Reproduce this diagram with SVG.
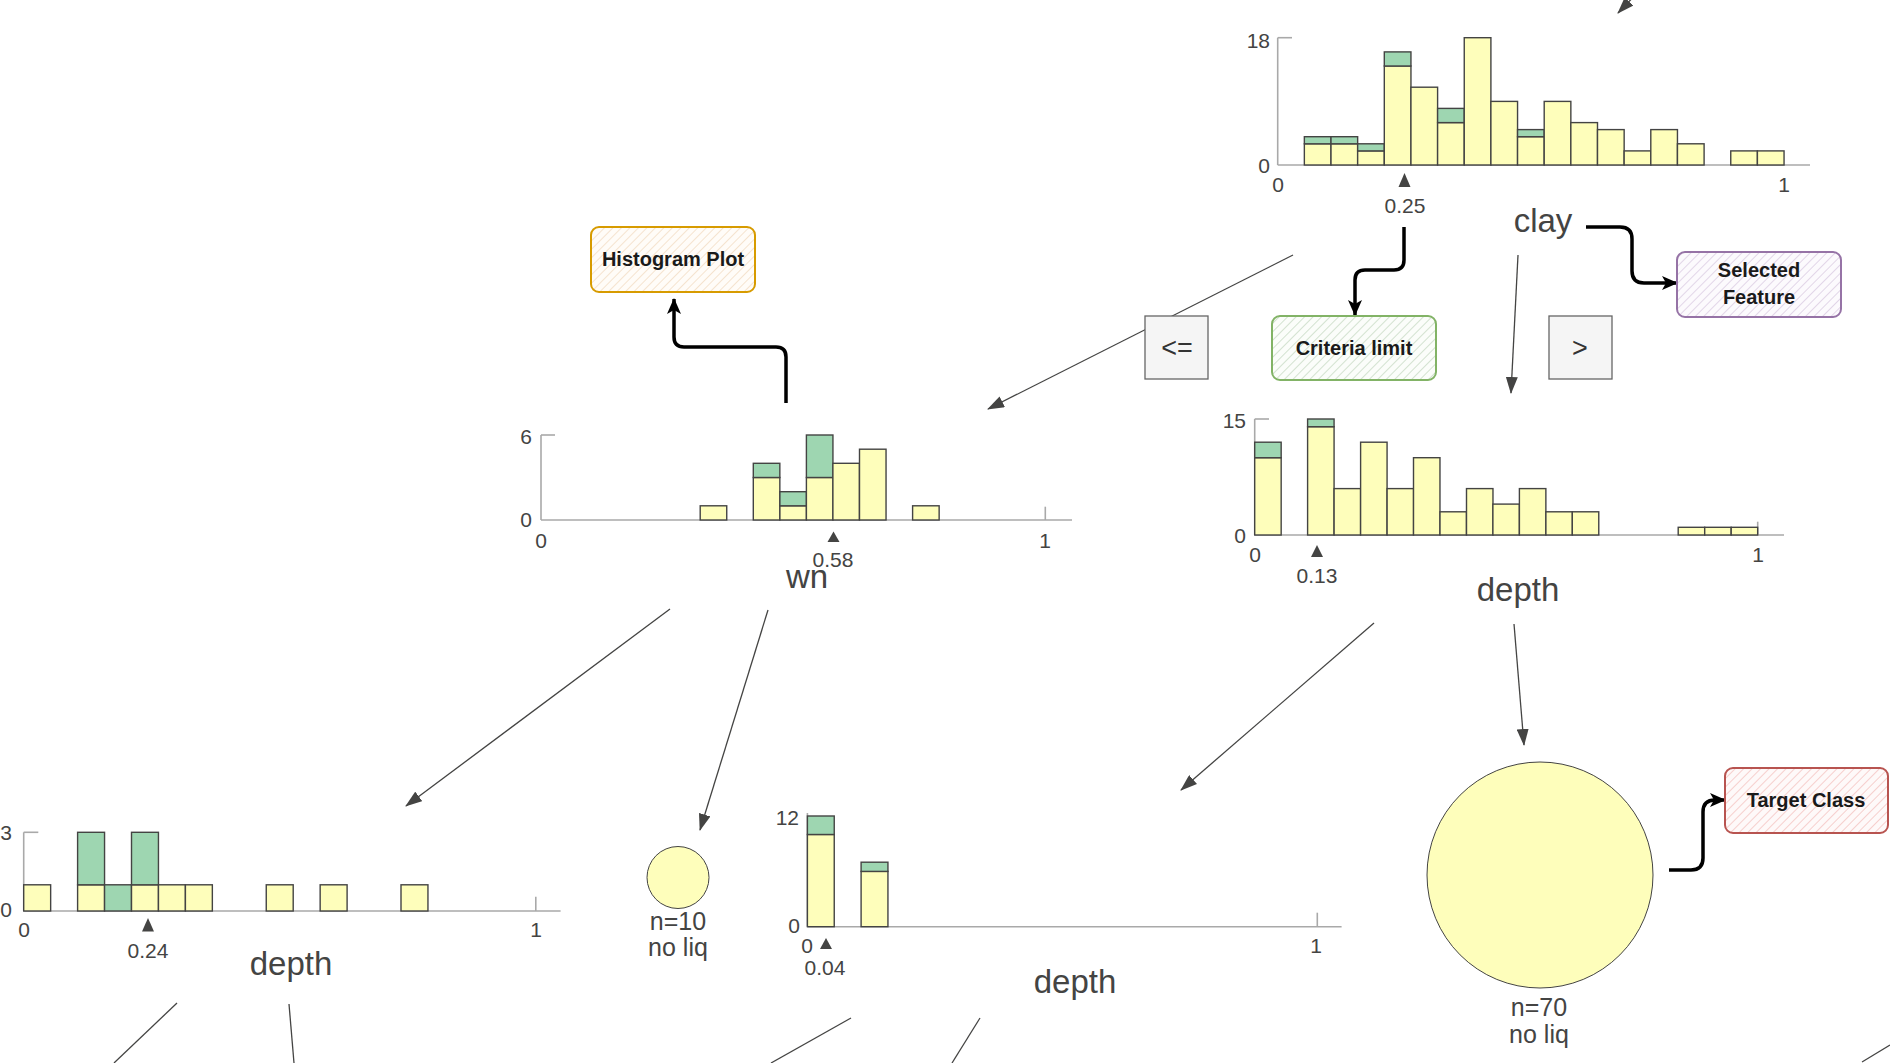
<svg xmlns="http://www.w3.org/2000/svg" width="1890" height="1063" viewBox="0 0 1890 1063">
<style>
text{font-family:"Liberation Sans",Arial,sans-serif;fill:#444443}
.tk{font-size:21px}
.tkl{font-size:21px;text-anchor:end}
.tkc{font-size:21px;text-anchor:middle}
.lab{font-size:33px;text-anchor:middle}
.leaf{font-size:25px;text-anchor:middle}
.ax{stroke:#a9a9a9;stroke-width:1.6;fill:none}
.y{fill:#fefebb;stroke:#444443;stroke-width:1.4}
.g{fill:#9ed6b1;stroke:#444443;stroke-width:1.4}
.mk{fill:#444443}
.edge{stroke:#444443;stroke-width:1.3;fill:none;marker-end:url(#ah)}
.stub{stroke:#444443;stroke-width:1.3;fill:none}
.call{stroke:#000;stroke-width:3.5;fill:none;marker-end:url(#bk)}
.ann{font-size:20px;font-weight:bold;text-anchor:middle;fill:#1a1a1a}
.op{fill:#f5f5f5;stroke:#666;stroke-width:1.3}
.opt{font-size:27px;text-anchor:middle;fill:#333}
</style>
<defs>
<marker id="ah" markerUnits="userSpaceOnUse" markerWidth="17" markerHeight="12" refX="16" refY="6" orient="auto"><path d="M0,0 L17,6 L0,12 z" fill="#444443"/></marker>
<marker id="bk" markerUnits="userSpaceOnUse" markerWidth="16" markerHeight="16" refX="15" refY="8" orient="auto"><path d="M0,1 L16,8 L0,15 L4,8 z" fill="#000"/></marker>
<pattern id="hg" patternUnits="userSpaceOnUse" width="6" height="6" patternTransform="rotate(45)"><rect width="6" height="6" fill="#fbfdfa"/><line x1="0" y1="0" x2="0" y2="6" stroke="#d3e2d0" stroke-width="2"/></pattern>
<pattern id="hp" patternUnits="userSpaceOnUse" width="6" height="6" patternTransform="rotate(45)"><rect width="6" height="6" fill="#fcfafd"/><line x1="0" y1="0" x2="0" y2="6" stroke="#e2d6e8" stroke-width="2"/></pattern>
<pattern id="ho" patternUnits="userSpaceOnUse" width="6" height="6" patternTransform="rotate(45)"><rect width="6" height="6" fill="#fffcf8"/><line x1="0" y1="0" x2="0" y2="6" stroke="#f5e3cf" stroke-width="2"/></pattern>
<pattern id="hr" patternUnits="userSpaceOnUse" width="6" height="6" patternTransform="rotate(45)"><rect width="6" height="6" fill="#fef9f9"/><line x1="0" y1="0" x2="0" y2="6" stroke="#f6cfcd" stroke-width="2"/></pattern>
</defs>

<g id="connectors">
<line class="edge" x1="1293" y1="255" x2="988" y2="409"/>
<line class="edge" x1="1518" y1="255" x2="1511" y2="393"/>
<line class="edge" x1="670" y1="609" x2="406" y2="806"/>
<line class="edge" x1="768" y1="610" x2="700" y2="830"/>
<line class="edge" x1="1374" y1="623" x2="1181" y2="790"/>
<line class="edge" x1="1514" y1="624" x2="1524" y2="745"/>
<line class="edge" x1="1642" y1="-12" x2="1618" y2="13"/>
<line class="stub" x1="177" y1="1003" x2="114" y2="1063"/>
<line class="stub" x1="289" y1="1004" x2="294" y2="1063"/>
<line class="stub" x1="851" y1="1018" x2="771" y2="1063"/>
<line class="stub" x1="980" y1="1018" x2="952" y2="1063"/>
<line class="stub" x1="1890" y1="1045" x2="1862" y2="1062"/>
<path class="call" d="M1404,227 V260 Q1404,270 1394,270 H1365 Q1355,270 1355,280 V315"/>
<path class="call" d="M1586,227 H1620 Q1632,227 1632,239 V271 Q1632,283 1644,283 H1677"/>
<path class="call" d="M786,403 V357 Q786,347 776,347 H684 Q674,347 674,337 V299"/>
<path class="call" d="M1669,870 H1691 Q1703,870 1703,858 V812 Q1703,800 1715,800 H1725"/>
</g>

<g id="node-clay">
<line class="ax" x1="1277.7" y1="37.7" x2="1277.7" y2="165"/>
<line class="ax" x1="1277.7" y1="37.7" x2="1292" y2="37.7"/>
<line class="ax" x1="1277.7" y1="165" x2="1810" y2="165"/>
<rect class="y" x="1304.35" y="143.8" width="26.65" height="21.2"/><rect class="g" x="1304.35" y="136.7" width="26.65" height="7.1"/>
<rect class="y" x="1331.0" y="143.8" width="26.65" height="21.2"/><rect class="g" x="1331.0" y="136.7" width="26.65" height="7.1"/>
<rect class="y" x="1357.65" y="150.9" width="26.65" height="14.1"/><rect class="g" x="1357.65" y="143.8" width="26.65" height="7.1"/>
<rect class="y" x="1384.3" y="66.0" width="26.65" height="99.0"/><rect class="g" x="1384.3" y="51.9" width="26.65" height="14.1"/>
<rect class="y" x="1410.95" y="87.2" width="26.65" height="77.8"/>
<rect class="y" x="1437.6" y="122.6" width="26.65" height="42.4"/><rect class="g" x="1437.6" y="108.4" width="26.65" height="14.2"/>
<rect class="y" x="1464.25" y="37.7" width="26.65" height="127.3"/>
<rect class="y" x="1490.9" y="101.4" width="26.65" height="63.6"/>
<rect class="y" x="1517.55" y="136.7" width="26.65" height="28.3"/><rect class="g" x="1517.55" y="129.6" width="26.65" height="7.1"/>
<rect class="y" x="1544.2" y="101.4" width="26.65" height="63.6"/>
<rect class="y" x="1570.85" y="122.6" width="26.65" height="42.4"/>
<rect class="y" x="1597.5" y="129.6" width="26.65" height="35.4"/>
<rect class="y" x="1624.15" y="150.9" width="26.65" height="14.1"/>
<rect class="y" x="1650.8" y="129.6" width="26.65" height="35.4"/>
<rect class="y" x="1677.45" y="143.8" width="26.65" height="21.2"/>
<rect class="y" x="1730.75" y="150.9" width="26.65" height="14.1"/>
<rect class="y" x="1757.4" y="150.9" width="26.65" height="14.1"/>
<text class="tkl" x="1270" y="48">18</text>
<text class="tkl" x="1270" y="173">0</text>
<text class="tkc" x="1278" y="192">0</text>
<text class="tkc" x="1784" y="192">1</text>
<path class="mk" d="M1404.5,173 L1410.5,187 L1398.5,187 z"/>
<text class="tkc" x="1405" y="213">0.25</text>
<text class="lab" x="1543" y="232">clay</text>
</g>

<g id="op-le"><rect class="op" x="1145" y="316" width="63" height="63"/><text class="opt" x="1177" y="357">&lt;=</text></g>
<g id="op-gt"><rect class="op" x="1549" y="316" width="63" height="63"/><text class="opt" x="1580" y="357">&gt;</text></g>

<g id="ann-criteria"><rect x="1272" y="316" width="164" height="64" rx="8" fill="url(#hg)" stroke="#82b366" stroke-width="2"/><text class="ann" x="1354" y="355">Criteria limit</text></g>
<g id="ann-selected"><rect x="1677" y="252" width="164" height="65" rx="8" fill="url(#hp)" stroke="#9673a6" stroke-width="2"/><text class="ann" x="1759" y="277">Selected</text><text class="ann" x="1759" y="304">Feature</text></g>
<g id="ann-histogram"><rect x="591" y="227" width="164" height="65" rx="8" fill="url(#ho)" stroke="#d79b00" stroke-width="2"/><text class="ann" x="673" y="266">Histogram Plot</text></g>
<g id="ann-target"><rect x="1725" y="768" width="163" height="65" rx="8" fill="url(#hr)" stroke="#b85450" stroke-width="2"/><text class="ann" x="1806" y="807">Target Class</text></g>

<g id="node-wn">
<line class="ax" x1="541" y1="435" x2="541" y2="520"/>
<line class="ax" x1="541" y1="435" x2="555" y2="435"/>
<line class="ax" x1="541" y1="520" x2="1072" y2="520"/>
<line class="ax" x1="1045.3" y1="506.7" x2="1045.3" y2="520"/>
<rect class="y" x="700.2" y="505.8" width="26.54" height="14.2"/>
<rect class="y" x="753.3" y="477.5" width="26.54" height="42.5"/><rect class="g" x="753.3" y="463.3" width="26.54" height="14.2"/>
<rect class="y" x="779.9" y="505.8" width="26.54" height="14.2"/><rect class="g" x="779.9" y="491.7" width="26.54" height="14.1"/>
<rect class="y" x="806.4" y="477.5" width="26.54" height="42.5"/><rect class="g" x="806.4" y="435" width="26.54" height="42.5"/>
<rect class="y" x="832.9" y="463.3" width="26.54" height="56.7"/>
<rect class="y" x="859.5" y="449.2" width="26.54" height="70.8"/>
<rect class="y" x="912.6" y="505.8" width="26.54" height="14.2"/>
<text class="tkl" x="532" y="444">6</text>
<text class="tkl" x="532" y="527">0</text>
<text class="tkc" x="541" y="548">0</text>
<text class="tkc" x="1045" y="548">1</text>
<path class="mk" d="M833.5,531.5 L839.5,542 L827.5,542 z"/>
<text class="tkc" x="833" y="567">0.58</text>
<text class="lab" x="807" y="588">wn</text>
</g>

<g id="node-depth-right">
<line class="ax" x1="1254.7" y1="419" x2="1254.7" y2="535"/>
<line class="ax" x1="1254.7" y1="419" x2="1269" y2="419"/>
<line class="ax" x1="1254.7" y1="535" x2="1784" y2="535"/>
<line class="ax" x1="1757.7" y1="521.7" x2="1757.7" y2="535"/>
<rect class="y" x="1254.7" y="457.7" width="26.47" height="77.3"/><rect class="g" x="1254.7" y="442.2" width="26.47" height="15.5"/>
<rect class="y" x="1307.6" y="426.7" width="26.47" height="108.3"/><rect class="g" x="1307.6" y="419" width="26.47" height="7.7"/>
<rect class="y" x="1334.1" y="488.6" width="26.47" height="46.4"/>
<rect class="y" x="1360.6" y="442.2" width="26.47" height="92.8"/>
<rect class="y" x="1387.1" y="488.6" width="26.47" height="46.4"/>
<rect class="y" x="1413.5" y="457.7" width="26.47" height="77.3"/>
<rect class="y" x="1440.0" y="511.8" width="26.47" height="23.2"/>
<rect class="y" x="1466.5" y="488.6" width="26.47" height="46.4"/>
<rect class="y" x="1492.9" y="504.1" width="26.47" height="30.9"/>
<rect class="y" x="1519.4" y="488.6" width="26.47" height="46.4"/>
<rect class="y" x="1545.9" y="511.8" width="26.47" height="23.2"/>
<rect class="y" x="1572.3" y="511.8" width="26.47" height="23.2"/>
<rect class="y" x="1678.2" y="527.3" width="26.47" height="7.7"/>
<rect class="y" x="1704.7" y="527.3" width="26.47" height="7.7"/>
<rect class="y" x="1731.2" y="527.3" width="26.47" height="7.7"/>
<text class="tkl" x="1246" y="428">15</text>
<text class="tkl" x="1246" y="543">0</text>
<text class="tkc" x="1255" y="562">0</text>
<text class="tkc" x="1758" y="562">1</text>
<path class="mk" d="M1317,545 L1323,557 L1311,557 z"/>
<text class="tkc" x="1317" y="583">0.13</text>
<text class="lab" x="1518" y="601">depth</text>
</g>

<g id="node-depth-left">
<line class="ax" x1="23.7" y1="832.3" x2="23.7" y2="911"/>
<line class="ax" x1="23.7" y1="832.3" x2="38.3" y2="832.3"/>
<line class="ax" x1="23.7" y1="911" x2="560.6" y2="911"/>
<line class="ax" x1="535.8" y1="896.7" x2="535.8" y2="911"/>
<rect class="y" x="23.7" y="884.8" width="26.95" height="26.2"/>
<rect class="y" x="77.6" y="884.8" width="26.95" height="26.2"/><rect class="g" x="77.6" y="832.3" width="26.95" height="52.5"/>
<rect class="g" x="104.55" y="884.8" width="26.95" height="26.2"/>
<rect class="y" x="131.5" y="884.8" width="26.95" height="26.2"/><rect class="g" x="131.5" y="832.3" width="26.95" height="52.5"/>
<rect class="y" x="158.45" y="884.8" width="26.95" height="26.2"/>
<rect class="y" x="185.4" y="884.8" width="26.95" height="26.2"/>
<rect class="y" x="266.25" y="884.8" width="26.95" height="26.2"/>
<rect class="y" x="320.15" y="884.8" width="26.95" height="26.2"/>
<rect class="y" x="401.0" y="884.8" width="26.95" height="26.2"/>
<text class="tkc" x="6" y="840">3</text>
<text class="tkc" x="6" y="917">0</text>
<text class="tkc" x="24" y="937">0</text>
<text class="tkc" x="536" y="937">1</text>
<path class="mk" d="M148,918 L154,931.5 L142,931.5 z"/>
<text class="tkc" x="148" y="958">0.24</text>
<text class="lab" x="291" y="975">depth</text>
</g>

<g id="leaf-n10">
<circle cx="678" cy="877.5" r="31" fill="#fefebb" stroke="#444443" stroke-width="1"/>
<text class="leaf" x="678" y="930">n=10</text>
<text class="leaf" x="678" y="956">no liq</text>
</g>

<g id="node-depth-mid">
<line class="ax" x1="807.4" y1="813" x2="807.4" y2="926.7"/>
<line class="ax" x1="807.4" y1="926.7" x2="1341.6" y2="926.7"/>
<line class="ax" x1="1317.3" y1="912.7" x2="1317.3" y2="926.7"/>
<rect class="y" x="807.4" y="834.5" width="26.84" height="92.2"/><rect class="g" x="807.4" y="816" width="26.84" height="18.5"/>
<rect class="y" x="861.1" y="871.4" width="26.84" height="55.3"/><rect class="g" x="861.1" y="862.2" width="26.84" height="9.2"/>
<text class="tkl" x="799" y="825">12</text>
<text class="tkl" x="800" y="933">0</text>
<text class="tkc" x="807" y="953">0</text>
<text class="tkc" x="1316" y="953">1</text>
<path class="mk" d="M826,938 L832,949 L820,949 z"/>
<text class="tkc" x="825" y="975">0.04</text>
<text class="lab" x="1075" y="993">depth</text>
</g>

<g id="leaf-n70">
<circle cx="1540" cy="875" r="113" fill="#fefebb" stroke="#444443" stroke-width="1"/>
<text class="leaf" x="1539" y="1016">n=70</text>
<text class="leaf" x="1539" y="1043">no liq</text>
</g>
</svg>
